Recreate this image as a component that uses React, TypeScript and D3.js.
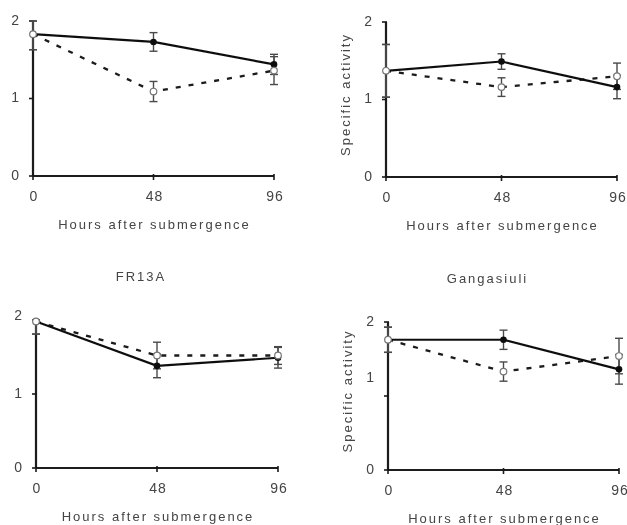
import React from "react";
import * as d3 from "d3";

// ---- data ----
const hours = [0, 48, 96];
const yTickValues = [0, 1, 2];
const xTickLabels = ["0", "48", "96"];
const yTickLabels = ["0", "1", "2"];
const panelTitles = ["", "", "FR13A", "Gangasiuli"];
const yAxisTitles = ["", "Specific activity", "", "Specific activity"];
const xAxisTitle = "Hours after submergence";

// solid line (filled markers)
const p1Solid = [1.83, 1.73, 1.44];
const p1SolidErr = [0.2, 0.12, 0.13];
const p2Solid = [1.37, 1.49, 1.16];
const p2SolidErr = [0.34, 0.1, 0.15];
const p3Solid = [1.98, 1.38, 1.49];
const p3SolidErr = [0.17, 0.16, 0.14];
const p4Solid = [1.76, 1.76, 1.36];
const p4SolidErr = [0.17, 0.13, 0.2];

// dashed line (open markers)
const p1Dashed = [1.83, 1.09, 1.36];
const p1DashedErr = [0.2, 0.13, 0.18];
const p2Dashed = [1.37, 1.16, 1.3];
const p2DashedErr = [0.34, 0.12, 0.17];
const p3Dashed = [1.98, 1.52, 1.52];
const p3DashedErr = [0.17, 0.18, 0.12];
const p4Dashed = [1.76, 1.33, 1.54];
const p4DashedErr = [0.17, 0.13, 0.24];

const solidSeries = [p1Solid, p2Solid, p3Solid, p4Solid];
const solidErrs = [p1SolidErr, p2SolidErr, p3SolidErr, p4SolidErr];
const dashedSeries = [p1Dashed, p2Dashed, p3Dashed, p4Dashed];
const dashedErrs = [p1DashedErr, p2DashedErr, p3DashedErr, p4DashedErr];

// ---- layout ----
const layouts = [
  { left: 33, right: 274, top: 21, bottom: 176, labelShift: [0, 0, 0] },
  { left: 386, right: 617, top: 22, bottom: 177, labelShift: [0, 0, 0] },
  { left: 36, right: 278, top: 320, bottom: 468, labelShift: [0, 0, -4] },
  { left: 388, right: 619, top: 322, bottom: 470, labelShift: [0, -18, 0] },
];

const FONT = "'Liberation Sans', Arial, Helvetica, sans-serif";
const TEXT = "#444";
const AXIS = "#1a1a1a";

function Panel({ idx }: { idx: number }) {
  const L = layouts[idx];
  const x = d3.scaleLinear().domain([0, 96]).range([L.left, L.right]);
  const y = d3.scaleLinear().domain([0, 2]).range([L.bottom, L.top]);
  const line = d3
    .line<number>()
    .x((_, i) => x(hours[i]))
    .y((d) => y(d));
  const solid = solidSeries[idx];
  const dashed = dashedSeries[idx];
  const sErr = solidErrs[idx];
  const dErr = dashedErrs[idx];
  const cx = (L.left + L.right) / 2;
  const cy = (L.top + L.bottom) / 2;
  const capW = 4;

  const errBars = (vals: number[], errs: number[], key: string) =>
    vals.map((v, i) => {
      const px = x(hours[i]);
      const hi = y(Math.min(v + errs[i], 2));
      const lo = y(Math.max(v - errs[i], 0));
      return (
        <g key={key + i} stroke="#4a4a4a" strokeWidth={1.4}>
          <line x1={px} x2={px} y1={hi} y2={lo} />
          <line x1={px - capW} x2={px + capW} y1={hi} y2={hi} />
          <line x1={px - capW} x2={px + capW} y1={lo} y2={lo} />
        </g>
      );
    });

  return (
    <g>
      {/* axes */}
      <line x1={L.left} x2={L.left} y1={y(2)} y2={y(0)} stroke={AXIS} strokeWidth={2.2} />
      <line x1={L.left} x2={L.right} y1={y(0)} y2={y(0)} stroke={AXIS} strokeWidth={2.2} />
      {yTickValues.map((t, i) => (
        <g key={"yt" + t}>
          <line x1={L.left - 4} x2={L.left + 1} y1={y(t)} y2={y(t)} stroke={AXIS} strokeWidth={1.6} />
          <text
            x={L.left - 13}
            y={y(t) + L.labelShift[i]}
            textAnchor="end"
            dominantBaseline="middle"
            fontFamily={FONT}
            fontSize={14}
            letterSpacing={1}
            fill={TEXT}
          >
            {yTickLabels[i]}
          </text>
        </g>
      ))}
      {hours.map((h, i) => (
        <g key={"xt" + h}>
          <line x1={x(h)} x2={x(h)} y1={y(0) - 2} y2={y(0) + 4} stroke={AXIS} strokeWidth={1.6} />
          <text
            x={x(h) + 1}
            y={y(0) + 21}
            textAnchor="middle"
            dominantBaseline="middle"
            fontFamily={FONT}
            fontSize={14}
            letterSpacing={1}
            fill={TEXT}
          >
            {xTickLabels[i]}
          </text>
        </g>
      ))}
      <text
        x={cx + 1}
        y={y(0) + 50}
        textAnchor="middle"
        dominantBaseline="middle"
        fontFamily={FONT}
        fontSize={13}
        letterSpacing={2}
        fill={TEXT}
      >
        {xAxisTitle}
      </text>
      {yAxisTitles[idx] && (
        <text
          transform={`translate(${L.left - 39},${cy - 5}) rotate(-90)`}
          textAnchor="middle"
          dominantBaseline="middle"
          fontFamily={FONT}
          fontSize={13}
          letterSpacing={2}
          fill={TEXT}
        >
          {yAxisTitles[idx]}
        </text>
      )}
      {panelTitles[idx] && (
        <text
          x={cx - 16}
          y={L.top - 42}
          textAnchor="middle"
          dominantBaseline="middle"
          fontFamily={FONT}
          fontSize={13}
          letterSpacing={2}
          fill={TEXT}
        >
          {panelTitles[idx]}
        </text>
      )}

      {/* lines */}
      <path d={line(dashed) || ""} fill="none" stroke="#1a1a1a" strokeWidth={2.3} strokeDasharray="5 8" />
      <path d={line(solid) || ""} fill="none" stroke="#111" strokeWidth={2.2} />

      {/* error bars */}
      {errBars(solid, sErr, "se")}
      {errBars(dashed, dErr, "de")}

      {/* markers */}
      {solid.map((v, i) => (
        <circle key={"sm" + i} cx={x(hours[i])} cy={y(v)} r={3.3} fill="#111" />
      ))}
      {dashed.map((v, i) => (
        <circle
          key={"dm" + i}
          cx={x(hours[i])}
          cy={y(v)}
          r={3.3}
          fill="#fff"
          stroke="#777"
          strokeWidth={1.2}
        />
      ))}
    </g>
  );
}

export default function App() {
  return (
    <svg
      width={627}
      height={525}
      style={{ position: "absolute", left: 0, top: 0, background: "#fff" }}
    >
      <defs>
        <filter id="soft" x="-5%" y="-5%" width="110%" height="110%">
          <feGaussianBlur stdDeviation={0.5} />
        </filter>
      </defs>
      <rect x={0} y={0} width={627} height={525} fill="#fff" />
      <g filter="url(#soft)">
        {layouts.map((_, i) => (
          <Panel key={i} idx={i} />
        ))}
      </g>
    </svg>
  );
}
